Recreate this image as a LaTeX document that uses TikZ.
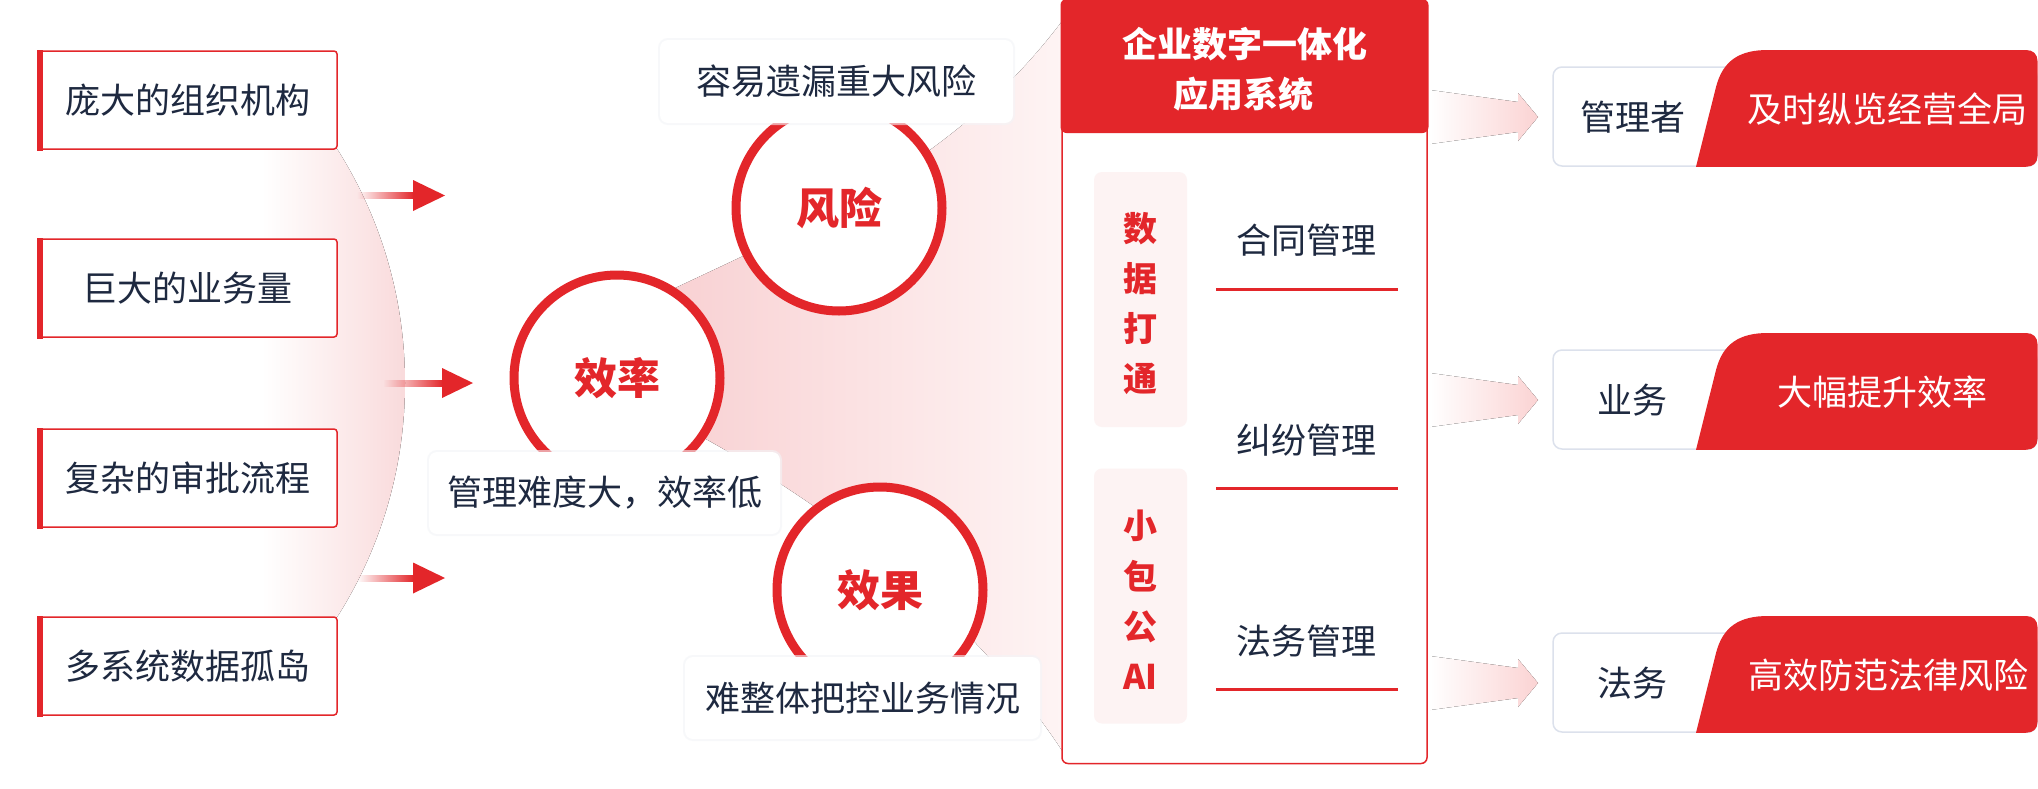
\documentclass[tikz,border=0pt]{standalone}
\usepackage{fontspec}
\setmainfont{Noto Sans CJK SC}
\usetikzlibrary{fadings}
\definecolor{rd}{HTML}{E3262A}
\definecolor{ink}{HTML}{1E2940}
\definecolor{pinkA}{HTML}{F9DADB}
\definecolor{pinkB}{HTML}{F8CFD1}
\definecolor{pinkC}{HTML}{FEF4F4}
\definecolor{pinkR}{HTML}{FBD3D3}
\definecolor{panelc}{HTML}{FDF3F3}
\definecolor{gborder}{HTML}{DCE1EC}
\definecolor{shd}{HTML}{F3F4F7}
\tikzfading[name=fadeL, left color=transparent!100, right color=transparent!0]
\begin{document}
\begin{tikzpicture}[x=1pt,y=-1pt,
  softshadow/.style={preaction={draw=shd, line width=4pt, opacity=0.6}},
  lbox/.style={draw=rd, line width=1.5pt, fill=white, rounded corners=3pt, minimum width=299pt, minimum height=98pt, inner sep=0pt, text=ink, font=\fontsize{35}{42}\selectfont},
  tbox/.style={fill=white, rounded corners=8pt, inner sep=0pt, text=ink, font=\fontsize{35}{42}\selectfont, softshadow},
  circ/.style={circle, draw=rd, line width=9pt, fill=white, minimum size=206pt, inner sep=0pt, text=rd, font=\fontsize{43}{50}\selectfont\bfseries},
  htext/.style={text=white, font=\fontsize{35}{42}\selectfont\bfseries, inner sep=0pt},
  panel/.style={fill=panelc, rounded corners=8pt, minimum width=93pt, minimum height=255pt, inner sep=0pt},
  ptext/.style={text=rd, align=center, font=\fontsize{34}{50.3}\selectfont\bfseries, inner sep=0pt},
  itext/.style={text=ink, font=\fontsize{35}{42}\selectfont, inner sep=0pt},
  rbox/.style={draw=gborder, line width=1.5pt, fill=white, rounded corners=9pt, minimum width=484pt, minimum height=99pt, inner sep=0pt},
  tagtext/.style={text=white, font=\fontsize{35}{42}\selectfont, inner sep=0pt},
  uline/.style={rd, line width=3pt}
]
\useasboundingbox (0,0) rectangle (2038,788);
\fill[white] (0,0) rectangle (2038,788);

% left pink arc region
\begin{scope}
  \clip (-32,383) circle (437);
  \fill[left color=white, right color=pinkA] (262,0) rectangle (406,788);
\end{scope}

% beam from efficiency circle to system box
\fill[left color=pinkB, right color=pinkC]
  (650,300) .. controls (800,228) and (950,170) .. (1063,20)
  -- (1063,752) .. controls (990,640) and (860,520) .. (680,425) -- cycle;

% left arrows
\coordinate (la1) at (445,195.5);
\coordinate (la2) at (473,383);
\coordinate (la3) at (445,578);
\fill[rd, path fading=fadeL] (357,192) rectangle ([xshift=-31pt]la1 |- 0,199);
\fill[rd] ([xshift=-32pt,yshift=15.5pt]la1) -- (la1) -- ([xshift=-32pt,yshift=-15.5pt]la1) -- cycle;
\fill[rd, path fading=fadeL] (383,379.5) rectangle ([xshift=-30pt]la2 |- 0,386.5);
\fill[rd] ([xshift=-31pt,yshift=15pt]la2) -- (la2) -- ([xshift=-31pt,yshift=-15pt]la2) -- cycle;
\fill[rd, path fading=fadeL] (357,574.5) rectangle ([xshift=-31pt]la3 |- 0,581.5);
\fill[rd] ([xshift=-32pt,yshift=15.5pt]la3) -- (la3) -- ([xshift=-32pt,yshift=-15.5pt]la3) -- cycle;

% left boxes
\node[lbox] (p1) at (187.5,100) {庞大的组织机构};
\node[lbox] (p2) at (187.5,288) {巨大的业务量};
\node[lbox] (p3) at (187.5,478) {复杂的审批流程};
\node[lbox] (p4) at (187.5,666) {多系统数据孤岛};
\foreach \p in {p1,p2,p3,p4}{
  \fill[rd] ([xshift=-0.75pt,yshift=0.75pt]\p.north west) rectangle ([xshift=6pt,yshift=-0.75pt]\p.south west);
}

% circles
\node[circ] (eff) at (617,378) {效率};
\node[circ] (risk) at (839,208) {风险};
\node[circ] (res) at (880,590) {效果};

% label boxes
\node[tbox, minimum width=353pt, minimum height=83pt] (t1) at (836.5,81.5) {容易遗漏重大风险};
\node[tbox, minimum width=351pt, minimum height=82pt] (t2) at (604.5,493) {管理难度大，效率低};
\node[tbox, minimum width=355pt, minimum height=82pt] (t3) at (862.5,698) {难整体把控业务情况};

% system box
\node[draw=rd, line width=1.5pt, fill=white, rounded corners=6pt, minimum width=365pt, minimum height=763pt, inner sep=0pt] (sys) at (1244.5,382) {};
\fill[rd, rounded corners=6pt] ([xshift=-0.75pt,yshift=0.75pt]sys.north west) rectangle ([xshift=0.75pt]sys.east |- 0,133);
\node[htext] (h1) at (1244.5,44) {企业数字一体化};
\node[htext] (h2) at (1243,94) {应用系统};

\node[panel] (pa) at (1140.5,299.5) {};
\node[ptext] (pat) at (1140.5,303.5) {数\\据\\打\\通};
\node[panel] (pb) at (1140.5,596) {};
\node[ptext] (pbt) at (1140.5,600) {小\\包\\公\\AI};

\node[itext] (m1) at (1306,240) {合同管理};
\node[itext] (m2) at (1306,440) {纠纷管理};
\node[itext] (m3) at (1306,641) {法务管理};
\draw[uline] (1216,289) -- (1398,289);
\draw[uline] (1216,488.5) -- (1398,488.5);
\draw[uline] (1216,689) -- (1398,689);

% right arrows
\coordinate (ra1) at (1538,117);
\coordinate (ra2) at (1538,400);
\coordinate (ra3) at (1538,683);
\foreach \a in {ra1,ra2,ra3}{
  \fill[left color=white, right color=pinkR]
    ([shift={(-108,-27)}]\a) -- ([shift={(-20,-15)}]\a) -- ([shift={(-20,-24)}]\a) -- (\a)
    -- ([shift={(-20,24)}]\a) -- ([shift={(-20,15)}]\a) -- ([shift={(-108,27)}]\a) -- cycle;
}

% right boxes and tags
\node[rbox] (r1) at (1795,116.5) {};
\node[rbox] (r2) at (1795,399.5) {};
\node[rbox] (r3) at (1795,682.5) {};
\foreach \T/\B in {67/166, 350/449, 633/732}{
  \fill[rd] (1696,\B+0.75) -- (1716,\T+20) .. controls (1723,\T-7) and (1740,\T-17) .. (1768,\T-17)
    -- (2026,\T-17) .. controls (2033,\T-17) and (2037.5,\T-13) .. (2037.5,\T-6)
    -- (2037.5,\B-10) .. controls (2037.5,\B-3) and (2033,\B+0.75) .. (2026,\B+0.75) -- cycle;
}
\node[itext] (r1t) at (1633,117) {管理者};
\node[itext] (r2t) at (1632,400) {业务};
\node[itext] (r3t) at (1632,683) {法务};
\node[tagtext] (g1) at (1887,109) {及时纵览经营全局};
\node[tagtext] (g2) at (1882,392) {大幅提升效率};
\node[tagtext] (g3) at (1888,675) {高效防范法律风险};
\end{tikzpicture}
\end{document}
